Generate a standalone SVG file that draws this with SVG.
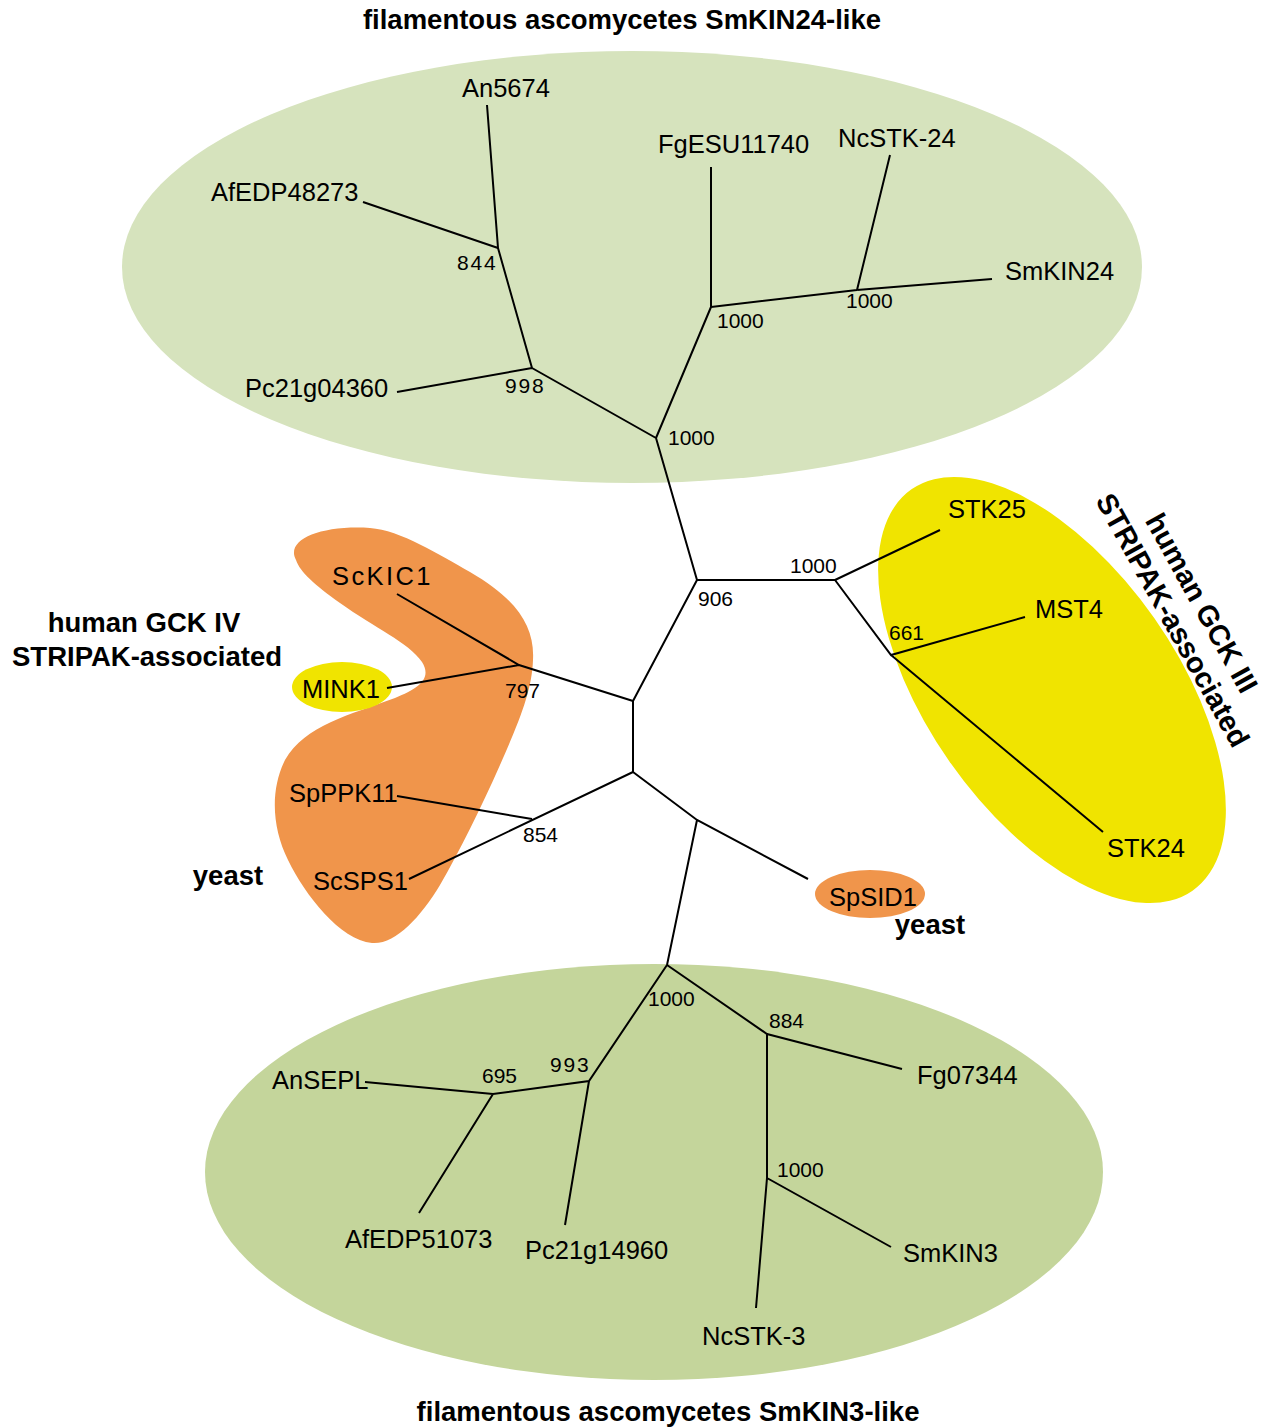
<svg xmlns="http://www.w3.org/2000/svg" width="1264" height="1427" viewBox="0 0 1264 1427">
<style>
.lf{font-family:"Liberation Sans",Arial,sans-serif;font-size:25.5px;fill:#000}
.bs{font-family:"Liberation Sans",Arial,sans-serif;font-size:21px;fill:#000}
.tt{font-family:"Liberation Sans",Arial,sans-serif;font-size:27.5px;font-weight:bold;fill:#000}
.rt{font-size:29px}
.br{fill:none;stroke:#000;stroke-width:2;stroke-linecap:butt;stroke-linejoin:miter}
</style>
<rect width="1264" height="1427" fill="#fff"/>
<g id="groups">
<ellipse id="g-smkin24" cx="632" cy="267" rx="510" ry="216" fill="#d6e3bd"/>
<ellipse id="g-smkin3" cx="654" cy="1172" rx="449" ry="208" fill="#c4d59b"/>
<ellipse id="g-gck3" cx="1052" cy="690" rx="245" ry="125" transform="rotate(55 1052 690)" fill="#f0e400"/>
<path id="g-yeast1" d="M296,560 C285,540 320,525 370,528 C400,530 440,555 470,572 C515,598 535,625 533,660 C532,690 520,720 500,765 C480,810 460,850 440,885 C420,918 395,945 372,943 C340,940 305,895 288,860 C272,828 270,790 285,760 C305,725 350,715 395,698 C420,688 432,678 422,662 C408,642 375,628 340,603 C315,585 300,572 296,560 Z" fill="#f0954b"/>
<ellipse id="g-mink1" cx="342" cy="687" rx="50" ry="25" fill="#f0e400"/>
<ellipse id="g-spsid1" cx="870" cy="894" rx="55" ry="24" fill="#f0954b"/>
</g>
<g id="connectors" class="br">
<path d="M656,438 L711,307 M656,438 L532,368 M532,368 L498,248 M498,248 L487,105 M498,248 L363,202 M532,368 L397,392"/>
<path d="M711,307 L711,167 M711,307 L857,290 M857,290 L890,155 M857,290 L992,279"/>
<path d="M656,438 L697,580 L835,580 M697,580 L633,701 L633,772"/>
<path d="M835,580 L940,530 M835,580 L891,655 L1025,617 M891,655 L1103,832"/>
<path d="M633,701 L519,665 L397,594 M519,665 L387,688"/>
<path d="M633,772 L409,879 M532,819 L397,796"/>
<path d="M633,772 L697,820 L808,879 M697,820 L667,965"/>
<path d="M667,965 L589,1081 L493,1094 L365,1082 M493,1094 L419,1213 M589,1081 L565,1225"/>
<path d="M667,965 L767,1034 L902,1069 M767,1034 L767,1178 L891,1247 M767,1178 L756,1308"/>
</g>
<g id="leaves">
<text id="n-An5674" class="lf" x="462" y="97">An5674</text>
<text id="n-AfEDP48273" class="lf" x="211" y="201">AfEDP48273</text>
<text id="n-Pc21g04360" class="lf" x="245" y="397">Pc21g04360</text>
<text id="n-FgESU11740" class="lf" x="658" y="153">FgESU11740</text>
<text id="n-NcSTK-24" class="lf" x="838" y="147">NcSTK-24</text>
<text id="n-SmKIN24" class="lf" x="1005" y="280">SmKIN24</text>
<text id="n-STK25" class="lf" x="948" y="518">STK25</text>
<text id="n-MST4" class="lf" x="1035" y="618">MST4</text>
<text id="n-STK24" class="lf" x="1107" y="857">STK24</text>
<text id="n-ScKIC1" class="lf" x="332" y="585" letter-spacing="2.4">ScKIC1</text>
<text id="n-MINK1" class="lf" x="302" y="698">MINK1</text>
<text id="n-SpPPK11" class="lf" x="289" y="802">SpPPK11</text>
<text id="n-ScSPS1" class="lf" x="313" y="890">ScSPS1</text>
<text id="n-SpSID1" class="lf" x="829" y="906">SpSID1</text>
<text id="n-AnSEPL" class="lf" x="272" y="1089">AnSEPL</text>
<text id="n-AfEDP51073" class="lf" x="345" y="1248">AfEDP51073</text>
<text id="n-Pc21g14960" class="lf" x="525" y="1259">Pc21g14960</text>
<text id="n-Fg07344" class="lf" x="917" y="1084">Fg07344</text>
<text id="n-SmKIN3" class="lf" x="903" y="1262">SmKIN3</text>
<text id="n-NcSTK-3" class="lf" x="702" y="1345">NcSTK-3</text>
</g>
<g id="bootstrap">
<text class="bs" x="457" y="270" letter-spacing="1.8">844</text>
<text class="bs" x="505" y="393" letter-spacing="1.8">998</text>
<text class="bs" x="668" y="445">1000</text>
<text class="bs" x="717" y="328">1000</text>
<text class="bs" x="846" y="308">1000</text>
<text class="bs" x="698" y="606">906</text>
<text class="bs" x="790" y="573">1000</text>
<text class="bs" x="889" y="640">661</text>
<text class="bs" x="505" y="698">797</text>
<text class="bs" x="523" y="842">854</text>
<text class="bs" x="648" y="1006">1000</text>
<text class="bs" x="550" y="1072" letter-spacing="1.8">993</text>
<text class="bs" x="482" y="1083">695</text>
<text class="bs" x="769" y="1028">884</text>
<text class="bs" x="777" y="1177">1000</text>
</g>
<g id="titles">
<text class="tt" x="622" y="29" text-anchor="middle">filamentous ascomycetes SmKIN24-like</text>
<text class="tt" x="668" y="1421" text-anchor="middle">filamentous ascomycetes SmKIN3-like</text>
<text class="tt" x="144" y="632" text-anchor="middle">human GCK IV</text>
<text class="tt" x="147" y="666" text-anchor="middle">STRIPAK-associated</text>
<text class="tt" x="228" y="885" text-anchor="middle">yeast</text>
<text class="tt" x="930" y="934" text-anchor="middle">yeast</text>
<text class="tt rt" x="1193" y="608" text-anchor="middle" transform="rotate(61 1193 608)">human GCK III</text>
<text class="tt rt" x="1164" y="625" text-anchor="middle" transform="rotate(61 1164 625)">STRIPAK-associated</text>
</g>
</svg>
